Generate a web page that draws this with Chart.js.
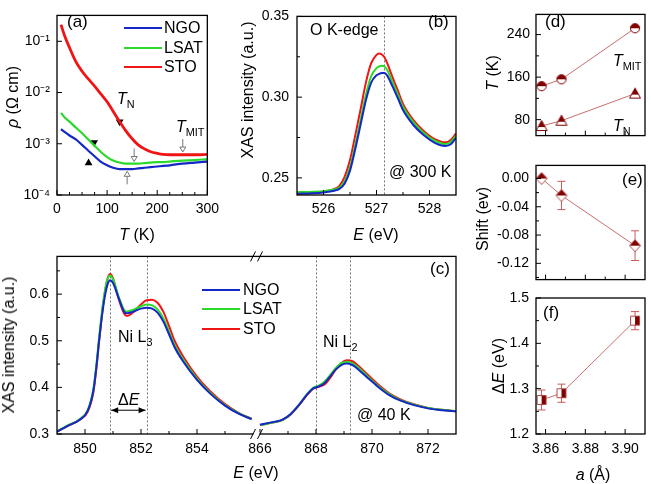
<!DOCTYPE html>
<html>
<head>
<meta charset="utf-8">
<script src="https://cdn.jsdelivr.net/npm/chart.js@4.4.0/dist/chart.umd.min.js"></script>
<style>
body { margin: 0; background: #fff; }
#wrap { position: relative; width: 651px; height: 484px; overflow: hidden; font-family: 'Liberation Sans', Arial, sans-serif; color: #000; }
canvas { position: absolute; }
.t { position: absolute; white-space: nowrap; line-height: 1; font-size: 16px; }
.c { transform: translate(-50%, -50%); }
.v { transform: translate(-50%, -50%) rotate(-90deg); }
.lg { position: absolute; height: 2px; width: 38px; }
sub { font-size: 68%; vertical-align: -0.35em; line-height: 0; }
i { font-style: italic; }
</style>
</head>
<body>
<div id="wrap">
<canvas id="ca" width="225" height="250" style="left:0;top:0"></canvas>
<canvas id="cb" width="225" height="250" style="left:240px;top:0"></canvas>
<canvas id="cc" width="470" height="244" style="left:0;top:240px"></canvas>
<canvas id="cd" width="191" height="150" style="left:460px;top:0"></canvas>
<canvas id="ce" width="191" height="145" style="left:460px;top:150px"></canvas>
<canvas id="cf" width="191" height="204" style="left:460px;top:280px"></canvas>

<!-- panel a -->
<div class="t" style="left:67px;top:13px;font-size:17px">(a)</div>
<div class="lg" style="left:124px;top:27px;background:#1428c8"></div>
<div class="t" style="left:164px;top:20px">NGO</div>
<div class="lg" style="left:124px;top:47px;background:#2bd92b"></div>
<div class="t" style="left:164px;top:40px">LSAT</div>
<div class="lg" style="left:124px;top:66px;background:#f01414"></div>
<div class="t" style="left:164px;top:59px">STO</div>
<div class="t" style="left:117px;top:91px"><i>T</i><sub>N</sub></div>
<div class="t" style="left:176px;top:119px"><i>T</i><sub>MIT</sub></div>
<div class="t v" style="left:13px;top:97px"><i>ρ</i> (Ω cm)</div>
<div class="t c" style="left:137px;top:235px"><i>T</i> (K)</div>

<!-- panel b -->
<div class="t" style="left:310px;top:22px">O K-edge</div>
<div class="t" style="left:428px;top:13px;font-size:17px">(b)</div>
<div class="t" style="left:389px;top:164px">@ 300 K</div>
<div class="t v" style="left:248px;top:90px">XAS intensity (a.u.)</div>
<div class="t c" style="left:376px;top:235px"><i>E</i> (eV)</div>

<!-- panel c -->
<div class="t" style="left:430px;top:260px;font-size:17px">(c)</div>
<div class="lg" style="left:202px;top:289px;background:#1428c8"></div>
<div class="t" style="left:243px;top:282px">NGO</div>
<div class="lg" style="left:202px;top:308px;background:#2bd92b"></div>
<div class="t" style="left:243px;top:301px">LSAT</div>
<div class="lg" style="left:202px;top:328px;background:#f01414"></div>
<div class="t" style="left:243px;top:321px">STO</div>
<div class="t" style="left:118px;top:329px">Ni L<sub>3</sub></div>
<div class="t" style="left:118px;top:392px">Δ<i>E</i></div>
<div class="t" style="left:323px;top:334px">Ni L<sub>2</sub></div>
<div class="t" style="left:357px;top:407px">@ 40 K</div>
<div class="t v" style="left:9px;top:345px">XAS intensity (a.u.)</div>
<div class="t c" style="left:256px;top:473px"><i>E</i> (eV)</div>

<!-- panels d, e, f -->
<div class="t" style="left:545px;top:13px;font-size:17px">(d)</div>
<div class="t" style="left:613px;top:53px"><i>T</i><sub>MIT</sub></div>
<div class="t" style="left:613px;top:118px"><i>T</i><sub>N</sub></div>
<div class="t v" style="left:493px;top:73px"><i>T</i> (K)</div>
<div class="t" style="left:622px;top:171px;font-size:17px">(e)</div>
<div class="t v" style="left:483px;top:219px">Shift (ev)</div>
<div class="t" style="left:543px;top:304px;font-size:17px">(f)</div>
<div class="t v" style="left:499px;top:366px">Δ<i>E</i> (eV)</div>
<div class="t c" style="left:593px;top:475px"><i>a</i> (Å)</div>
</div>

<script>
// (a) resistivity vs temperature
const tempK = [8, 15, 25, 37, 50, 62, 75, 87, 100, 112, 125, 137, 150, 162, 175, 187, 200, 212, 225, 250, 275, 300];
const rhoNGO = [0.00193, 0.0017, 0.00145, 0.00123, 0.00095, 0.00074, 0.00057, 0.00045, 0.00038, 0.00034, 0.00032, 0.00032, 0.00032, 0.00033, 0.00034, 0.00035, 0.00036, 0.00037, 0.00038, 0.00041, 0.00043, 0.00045];
const rhoLSAT = [0.0040, 0.0033, 0.0027, 0.0021, 0.0016, 0.00122, 0.00091, 0.00070, 0.00055, 0.00047, 0.00043, 0.00041, 0.00041, 0.00041, 0.00042, 0.00043, 0.00044, 0.00044, 0.00045, 0.00047, 0.00048, 0.00050];
const rhoSTO = [0.21, 0.13, 0.075, 0.041, 0.026, 0.0186, 0.0133, 0.0095, 0.0066, 0.0043, 0.0027, 0.0018, 0.00125, 0.00095, 0.00079, 0.00070, 0.00065, 0.00062, 0.00061, 0.00061, 0.00061, 0.00062];
const tnT = [63, 74, 125];          // NGO, LSAT, STO
const tnRho = [0.00042, 0.00106, 0.00268];
const tnRot = [0, 180, 180];
const tmitT = [140, 154, 251];
const tmitRho = [0.00029, 0.00045, 0.00069];
const tmitDir = [-1, 1, 1];

// (b) O K-edge at 300 K
const eO = [525.5, 525.8, 526.0, 526.2, 526.3, 526.4, 526.5, 526.6, 526.7, 526.8, 526.9, 527.0, 527.05, 527.1, 527.15, 527.2, 527.3, 527.4, 527.5, 527.7, 527.9, 528.1, 528.3, 528.4, 528.5];
const oNGO = [0.2402, 0.2405, 0.2410, 0.2420, 0.2432, 0.2465, 0.2545, 0.2680, 0.2830, 0.2980, 0.3090, 0.3135, 0.3144, 0.3149, 0.3149, 0.3135, 0.3068, 0.2995, 0.2920, 0.2826, 0.2762, 0.2717, 0.2698, 0.2708, 0.2748];
const oLSAT = [0.2412, 0.2414, 0.2418, 0.2428, 0.2440, 0.2480, 0.2565, 0.2705, 0.2860, 0.3015, 0.3130, 0.3180, 0.3190, 0.3194, 0.3190, 0.3170, 0.3095, 0.3018, 0.2940, 0.2843, 0.2776, 0.2730, 0.2710, 0.2722, 0.2762];
const oSTO = [0.2404, 0.2407, 0.2414, 0.2430, 0.2450, 0.2508, 0.2610, 0.2765, 0.2925, 0.3090, 0.3210, 0.3262, 0.3271, 0.3264, 0.3247, 0.3212, 0.3125, 0.3043, 0.2958, 0.2856, 0.2788, 0.2740, 0.2720, 0.2735, 0.2775];
const oMark = [527.15];

// (c) Ni L3 and L2 edges at 40 K
const eL3 = [849, 849.4, 849.8, 850.1, 850.3, 850.4, 850.5, 850.6, 850.7, 850.8, 850.9, 851.0, 851.2, 851.4, 851.5, 851.7, 852.0, 852.2, 852.4, 852.6, 852.8, 853.0, 853.2, 853.5, 854.0, 854.5, 855.0, 855.5, 855.95];
const l3NGO = [0.305, 0.318, 0.330, 0.350, 0.393, 0.440, 0.498, 0.550, 0.592, 0.620, 0.630, 0.624, 0.592, 0.562, 0.559, 0.562, 0.569, 0.571, 0.569, 0.560, 0.541, 0.514, 0.486, 0.456, 0.416, 0.385, 0.361, 0.343, 0.332];
const l3LSAT = [0.306, 0.319, 0.331, 0.352, 0.397, 0.445, 0.505, 0.560, 0.603, 0.632, 0.640, 0.632, 0.595, 0.566, 0.563, 0.566, 0.574, 0.578, 0.576, 0.567, 0.548, 0.520, 0.491, 0.460, 0.419, 0.387, 0.362, 0.344, 0.332];
const l3STO = [0.305, 0.318, 0.330, 0.348, 0.390, 0.437, 0.497, 0.553, 0.600, 0.632, 0.643, 0.634, 0.590, 0.558, 0.553, 0.560, 0.578, 0.587, 0.588, 0.581, 0.562, 0.532, 0.500, 0.467, 0.423, 0.390, 0.364, 0.345, 0.333];
const eL2 = [866.0, 866.5, 866.8, 867.1, 867.4, 867.7, 867.9, 868.1, 868.3, 868.5, 868.7, 868.9, 869.1, 869.3, 869.5, 869.8, 870.2, 870.6, 871.0, 871.5, 872.0, 872.5, 873.0];
const l2NGO = [0.320, 0.326, 0.331, 0.343, 0.363, 0.386, 0.398, 0.402, 0.409, 0.423, 0.438, 0.448, 0.451, 0.448, 0.439, 0.423, 0.402, 0.384, 0.372, 0.362, 0.355, 0.351, 0.349];
const l2LSAT = [0.319, 0.325, 0.330, 0.343, 0.363, 0.387, 0.399, 0.404, 0.412, 0.426, 0.441, 0.452, 0.455, 0.452, 0.443, 0.426, 0.404, 0.386, 0.373, 0.363, 0.356, 0.352, 0.349];
const l2STO = [0.319, 0.325, 0.330, 0.342, 0.362, 0.385, 0.397, 0.401, 0.406, 0.420, 0.438, 0.452, 0.458, 0.456, 0.447, 0.430, 0.407, 0.388, 0.375, 0.364, 0.356, 0.352, 0.349];
const l3Marks = [850.9, 852.2];
const l2Marks = [868.0, 869.2];

// (d)-(f) versus substrate lattice parameter
const aLat = [3.858, 3.868, 3.905];
const tMIT = [143, 156, 252];
const tN = [68, 78, 129];
const shift = [0, -0.024, -0.095];
const shiftErr = [0, 0.02, 0.021];
const dE = [1.275, 1.290, 1.450];
const dEErr = [0.022, 0.02, 0.02];

const BLUE = '#1428c8', GREEN = '#2bd92b', RED = '#f01414';
const DARK = '#800000', LINK = '#c86e6e';
const FONT = "'Liberation Sans', Arial, sans-serif";

Chart.defaults.font.family = FONT;
Chart.defaults.font.size = 14;
Chart.defaults.color = '#000';

const pts = (xs, ys) => xs.map((x, i) => ({ x: x, y: ys[i] }));

function line(ctx, x1, y1, x2, y2) {
    ctx.beginPath();
    ctx.moveTo(x1, y1);
    ctx.lineTo(x2, y2);
    ctx.stroke();
}

function curve(xs, ys, color, axis, width) {
    const ds = { data: pts(xs, ys), borderColor: color, borderWidth: width || 2, pointRadius: 0, cubicInterpolationMode: 'monotone', fill: false };
    if (axis) ds.xAxisID = axis;
    return ds;
}

// axis with fixed size, hand-picked labelled ticks and no grid
function axis(extra, size, labels, fmt, pad) {
    const horiz = extra.position !== 'left';
    return Object.assign({
        type: 'linear',
        grid: { display: false, drawTicks: false, tickLength: 0 },
        border: { display: false },
        afterFit: s => { if (horiz) s.height = size; else s.width = size; },
        afterBuildTicks: s => { s.ticks = labels.map(v => ({ value: v })); },
        ticks: { display: labels.length > 0, padding: pad, autoSkip: false, maxRotation: 0, callback: fmt }
    }, extra);
}

// frame, inward ticks, dotted markers, error bars
function frame(cfg) {
    return {
        id: 'frame',
        beforeDatasetsDraw(chart) {
            const ctx = chart.ctx, a = chart.chartArea;
            ctx.save();
            ctx.strokeStyle = '#777';
            ctx.lineWidth = 1;
            ctx.setLineDash([2, 2]);
            (cfg.vlines || []).forEach(([id, vals]) => vals.forEach(v => {
                const x = Math.round(chart.scales[id].getPixelForValue(v)) + 0.5;
                line(ctx, x, a.top, x, a.bottom);
            }));
            ctx.setLineDash([]);
            chart.data.datasets.forEach((ds, i) => {
                if (!ds.errors) return;
                const ys = chart.scales.y;
                chart.getDatasetMeta(i).data.forEach((p, j) => {
                    const e = ds.errors[j];
                    if (!e) return;
                    const v = ds.data[j].y;
                    const y1 = ys.getPixelForValue(v + e), y2 = ys.getPixelForValue(v - e);
                    ctx.strokeStyle = '#c85a5a';
                    line(ctx, p.x, y1, p.x, y2);
                    line(ctx, p.x - 4, y1, p.x + 4, y1);
                    line(ctx, p.x - 4, y2, p.x + 4, y2);
                });
            });
            ctx.restore();
        },
        afterDraw(chart) {
            const ctx = chart.ctx, a = chart.chartArea;
            ctx.save();
            if (cfg.extra) cfg.extra(chart, ctx, a);
            ctx.strokeStyle = '#000';
            ctx.lineWidth = 1.3;
            ctx.strokeRect(a.left, a.top, a.right - a.left, a.bottom - a.top);
            ctx.lineWidth = 1;
            cfg.ticks.forEach(t => {
                const s = chart.scales[t.axis];
                [[t.major, 5], [t.minor || [], 3]].forEach(([vals, len]) => vals.forEach(v => {
                    const p = s.getPixelForValue(v);
                    if (s.isHorizontal()) line(ctx, p, a.bottom, p, a.bottom - len);
                    else line(ctx, a.left, p, a.left + len, p);
                }));
            });
            if (cfg.after) cfg.after(chart, ctx, a);
            ctx.restore();
        }
    };
}

const base = pad => ({
    animation: false, responsive: false, devicePixelRatio: 1, events: [],
    layout: { padding: pad },
    plugins: { legend: { display: false }, tooltip: { enabled: false } }
});

const SUP = { '-': '⁻', '1': '¹', '2': '²', '3': '³', '4': '⁴' };
const logLabel = v => '10' + String(Math.round(Math.log10(v))).split('').map(c => SUP[c]).join('');

// ---------- (a)
const aOpts = base({ top: 6, right: 8, left: 0, bottom: 0 });
aOpts.scales = {
    x: axis({ position: 'bottom', min: 0, max: 300 }, 55, [0, 100, 200, 300], v => v, 6),
    y: axis({ position: 'left', type: 'logarithmic', min: 1e-4, max: 0.32 }, 57, [1e-4, 1e-3, 1e-2, 1e-1], logLabel, 7)
};
new Chart(document.getElementById('ca'), {
    type: 'line',
    data: { datasets: [
        curve(tempK, rhoNGO, BLUE, null, 2.2),
        curve(tempK, rhoLSAT, GREEN, null, 2.2),
        curve(tempK, rhoSTO, RED, null, 2.8),
        { type: 'scatter', data: pts(tnT, tnRho), pointStyle: 'triangle', pointRadius: 4.5, pointRotation: tnRot, backgroundColor: '#000', borderColor: '#000', borderWidth: 0 }
    ] },
    options: aOpts,
    plugins: [frame({
        ticks: [
            { axis: 'x', major: [0, 100, 200, 300], minor: [25, 50, 75, 125, 150, 175, 225, 250, 275] },
            { axis: 'y', major: [1e-4, 1e-3, 1e-2, 1e-1] }
        ],
        after(chart, ctx) {
            const xs = chart.scales.x, ys = chart.scales.y;
            ctx.strokeStyle = '#777';
            ctx.fillStyle = '#fff';
            tmitT.forEach((t, i) => {
                const x = xs.getPixelForValue(t), y = ys.getPixelForValue(tmitRho[i]), d = tmitDir[i];
                line(ctx, x, y - d * 13, x, y - d * 5);
                ctx.beginPath();
                ctx.moveTo(x, y);
                ctx.lineTo(x - 3, y - d * 5);
                ctx.lineTo(x + 3, y - d * 5);
                ctx.closePath();
                ctx.fill();
                ctx.stroke();
            });
        }
    })]
});

// ---------- (b)
const bOpts = base({ top: 6, right: 9, left: 0, bottom: 0 });
bOpts.scales = {
    x: axis({ position: 'bottom', min: 525.5, max: 528.5 }, 55, [526, 527, 528], v => v, 6),
    y: axis({ position: 'left', min: 0.2394, max: 0.35 }, 57, [0.25, 0.30, 0.35], v => v.toFixed(2), 8)
};
new Chart(document.getElementById('cb'), {
    type: 'line',
    data: { datasets: [curve(eO, oNGO, BLUE), curve(eO, oLSAT, GREEN), curve(eO, oSTO, RED)] },
    options: bOpts,
    plugins: [frame({
        vlines: [['x', oMark]],
        ticks: [
            { axis: 'x', major: [526, 527, 528], minor: [526.5, 527.5] },
            { axis: 'y', major: [0.25, 0.30, 0.35], minor: [0.275, 0.325] }
        ]
    })]
});

// ---------- (c) broken energy axis: two x scales on one plot area
const cOpts = base({ top: 15, right: 14, left: 0, bottom: 0 });
cOpts.scales = {
    xL: axis({ position: 'bottom', min: 849, max: 863.25 }, 50, [], v => v, 7),
    xR: axis({ position: 'bottom', min: 858.75, max: 873, display: false }, 0, [], v => v, 7),
    y: axis({ position: 'left', min: 0.3, max: 0.681 }, 57, [0.3, 0.4, 0.5, 0.6], v => v.toFixed(1), 8)
};
new Chart(document.getElementById('cc'), {
    type: 'line',
    data: { datasets: [
        curve(eL3, l3NGO, BLUE, 'xL'), curve(eL3, l3LSAT, GREEN, 'xL'), curve(eL3, l3STO, RED, 'xL'),
        curve(eL2, l2NGO, BLUE, 'xR'), curve(eL2, l2LSAT, GREEN, 'xR'), curve(eL2, l2STO, RED, 'xR')
    ] },
    options: cOpts,
    plugins: [frame({
        vlines: [['xL', l3Marks], ['xR', l2Marks]],
        ticks: [
            { axis: 'xL', major: [850, 852, 854], minor: [851, 853, 855] },
            { axis: 'xR', major: [866, 868, 870, 872], minor: [867, 869, 871] },
            { axis: 'y', major: [0.3, 0.4, 0.5, 0.6], minor: [0.35, 0.45, 0.55, 0.65] }
        ],
        after(chart, ctx, a) {
            const xL = chart.scales.xL, xR = chart.scales.xR, ys = chart.scales.y;
            ctx.fillStyle = '#000';
            ctx.font = '14px ' + FONT;
            ctx.textAlign = 'center';
            ctx.textBaseline = 'top';
            [850, 852, 854].forEach(v => ctx.fillText(String(v), xL.getPixelForValue(v), a.bottom + 8));
            [866, 868, 870, 872].forEach(v => ctx.fillText(String(v), xR.getPixelForValue(v), a.bottom + 8));
            // axis break
            const mid = (xL.getPixelForValue(856) + xR.getPixelForValue(866)) / 2;
            ctx.fillStyle = '#fff';
            ctx.fillRect(mid - 3, a.bottom - 2, 6, 4);
            ctx.strokeStyle = '#000';
            ctx.lineWidth = 1;
            [a.top, a.bottom].forEach(y => {
                line(ctx, mid - 6, y + 5, mid - 1, y - 5);
                line(ctx, mid + 1, y + 5, mid + 6, y - 5);
            });
            // delta E arrow
            const y = ys.getPixelForValue(0.351);
            const x1 = xL.getPixelForValue(l3Marks[0]), x2 = xL.getPixelForValue(l3Marks[1]);
            line(ctx, x1 + 1, y, x2 - 1, y);
            ctx.fillStyle = '#000';
            [[x1 + 1, 1], [x2 - 1, -1]].forEach(([x, d]) => {
                ctx.beginPath();
                ctx.moveTo(x, y);
                ctx.lineTo(x + d * 7, y - 3);
                ctx.lineTo(x + d * 7, y + 3);
                ctx.closePath();
                ctx.fill();
            });
        }
    })]
});

// ---------- half-filled markers for (d)-(f)
function marker(shape) {
    const c = document.createElement('canvas');
    c.width = c.height = 14;
    const g = c.getContext('2d');
    const path = () => {
        g.beginPath();
        if (shape === 'circle') g.arc(7, 7, 4.6, 0, 2 * Math.PI);
        else if (shape === 'triangle') { g.moveTo(7, 1.5); g.lineTo(12.5, 11.5); g.lineTo(1.5, 11.5); g.closePath(); }
        else if (shape === 'diamond') { g.moveTo(7, 1); g.lineTo(12.5, 7); g.lineTo(7, 13); g.lineTo(1.5, 7); g.closePath(); }
        else g.rect(2.5, 2.5, 9, 9);
    };
    path();
    g.fillStyle = '#fff';
    g.fill();
    g.save();
    path();
    g.clip();
    g.fillStyle = DARK;
    if (shape === 'square') g.fillRect(7, 0, 7, 14);
    else if (shape === 'triangle') g.fillRect(0, 0, 14, 8);
    else g.fillRect(0, 0, 14, 7);
    g.restore();
    path();
    g.strokeStyle = shape === 'square' || shape === 'diamond' ? '#b04848' : DARK;
    g.lineWidth = 1;
    g.stroke();
    return c;
}

function series(ys, shape, errs) {
    const ds = { data: pts(aLat, ys), borderColor: LINK, borderWidth: 1, pointStyle: marker(shape), pointRadius: 5, tension: 0 };
    if (errs) ds.errors = errs;
    return ds;
}

const xa = (h, labels) => axis({ position: 'bottom', min: 3.8552, max: 3.910 }, h, labels, v => v.toFixed(2), 7);
const xaTicks = { axis: 'x', major: [3.86, 3.88, 3.90], minor: [3.87, 3.89] };

// ---------- (d)
const dOpts = base({ top: 7, right: 1, left: 0, bottom: 0 });
dOpts.scales = {
    x: xa(6, []),
    y: axis({ position: 'left', min: 50, max: 278 }, 76, [80, 160, 240], v => v, 6)
};
new Chart(document.getElementById('cd'), {
    type: 'line',
    data: { datasets: [series(tMIT, 'circle'), series(tN, 'triangle')] },
    options: dOpts,
    plugins: [frame({ ticks: [xaTicks, { axis: 'y', major: [80, 160, 240], minor: [120, 200] }] })]
});

// ---------- (e)
const eOpts = base({ top: 4, right: 1, left: 0, bottom: 0 });
eOpts.scales = {
    x: xa(5, []),
    y: axis({ position: 'left', min: -0.143, max: 0.0185 }, 76, [0, -0.04, -0.08, -0.12], v => v.toFixed(2), 7)
};
new Chart(document.getElementById('ce'), {
    type: 'line',
    data: { datasets: [series(shift, 'diamond', shiftErr)] },
    options: eOpts,
    plugins: [frame({ ticks: [xaTicks, { axis: 'y', major: [0, -0.04, -0.08, -0.12], minor: [-0.02, -0.06, -0.10, -0.14] }] })]
});

// ---------- (f)
const fOpts = base({ top: 18, right: 1, left: 0, bottom: 0 });
fOpts.scales = {
    x: xa(50, [3.86, 3.88, 3.90]),
    y: axis({ position: 'left', min: 1.2, max: 1.5 }, 76, [1.2, 1.3, 1.4, 1.5], v => v.toFixed(1), 7)
};
new Chart(document.getElementById('cf'), {
    type: 'line',
    data: { datasets: [series(dE, 'square', dEErr)] },
    options: fOpts,
    plugins: [frame({ ticks: [xaTicks, { axis: 'y', major: [1.2, 1.3, 1.4, 1.5], minor: [1.25, 1.35, 1.45] }] })]
});
</script>
</body>
</html>
